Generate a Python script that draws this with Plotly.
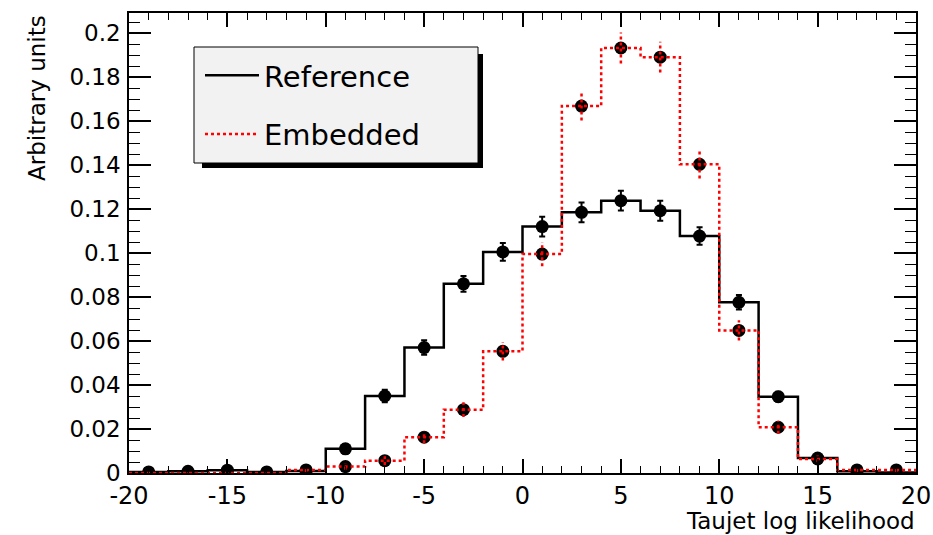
import plotly.graph_objects as go

# ---- data ----
bin_edges = [-20, -18, -16, -14, -12, -10, -8, -6, -4, -2, 0, 2, 4, 6, 8, 10, 12, 14, 16, 18, 20]
bin_centers = [-19, -17, -15, -13, -11, -9, -7, -5, -3, -1, 1, 3, 5, 7, 9, 11, 13, 15, 17, 19]

reference_vals = [0.0005, 0.0008, 0.0013, 0.0005, 0.0009, 0.011, 0.035, 0.057, 0.086, 0.1005,
                  0.112, 0.1185, 0.1238, 0.1192, 0.1077, 0.0776, 0.0347, 0.0068, 0.0008, 0.0002]
reference_err = [0.0005, 0.0006, 0.0008, 0.0005, 0.0006, 0.0022, 0.0028, 0.0033, 0.0036, 0.004,
                 0.0045, 0.0045, 0.0045, 0.0045, 0.004, 0.0033, 0.0022, 0.0012, 0.0005, 0.0004]

embedded_vals = [0.0, 0.0, 0.0, 0.0, 0.0014, 0.0029, 0.0056, 0.0163, 0.0288, 0.0553,
                 0.0995, 0.1668, 0.1932, 0.189, 0.1403, 0.0648, 0.0208, 0.0064, 0.0014, 0.0014]
embedded_err = [0.0003, 0.0003, 0.0003, 0.0003, 0.001, 0.0014, 0.002, 0.0028, 0.0034, 0.0042,
                0.0055, 0.0066, 0.007, 0.007, 0.0064, 0.0046, 0.003, 0.0015, 0.001, 0.001]

x_tick_vals = [-20, -15, -10, -5, 0, 5, 10, 15, 20]
x_tick_text = ["-20", "-15", "-10", "-5", "0", "5", "10", "15", "20"]

series_names = ["Reference", "Embedded"]

RED = "#ff0000"
BLACK = "#000000"

fig = go.Figure()

# Reference histogram (step)
fig.add_trace(go.Scatter(
    x=bin_edges, y=reference_vals + [reference_vals[-1]],
    mode="lines", line=dict(color=BLACK, width=2.5, shape="hv"),
    showlegend=False, hoverinfo="skip"))

# Reference points with error bars
fig.add_trace(go.Scatter(
    x=bin_centers, y=reference_vals, mode="markers",
    marker=dict(color=BLACK, size=13, symbol="circle"),
    error_y=dict(type="data", array=reference_err, color=BLACK, thickness=2, width=3),
    showlegend=False, hoverinfo="skip"))

# Embedded points (black markers)
fig.add_trace(go.Scatter(
    x=bin_centers, y=embedded_vals, mode="markers",
    marker=dict(color=BLACK, size=13, symbol="circle"),
    showlegend=False, hoverinfo="skip"))

# Embedded histogram (red dotted step)
fig.add_trace(go.Scatter(
    x=bin_edges, y=embedded_vals + [embedded_vals[-1]],
    mode="lines", line=dict(color=RED, width=2.5, shape="hv", dash="dot"),
    showlegend=False, hoverinfo="skip"))

# Embedded error bars (red dotted vertical segments)
ex, ey = [], []
for c, v, e in zip(bin_centers, embedded_vals, embedded_err):
    ex += [c, c, None]
    ey += [v - e, v + e, None]
fig.add_trace(go.Scatter(
    x=ex, y=ey, mode="lines", line=dict(color=RED, width=2.5, dash="dot"),
    showlegend=False, hoverinfo="skip"))

# Legend entries
fig.add_trace(go.Scatter(
    x=[None], y=[None], mode="lines", name=series_names[0],
    line=dict(color=BLACK, width=2.5), legendgroup="a"))
fig.add_trace(go.Scatter(
    x=[None], y=[None], mode="lines", name=series_names[1],
    line=dict(color=RED, width=2.5, dash="dot"), legendgroup="b"))

axis_common = dict(
    showline=True, linecolor=BLACK, linewidth=1.5, mirror="ticks",
    ticks="inside", tickcolor=BLACK, tickwidth=1.5,
    showgrid=False, zeroline=False, automargin=False,
)

fig.update_xaxes(
    **axis_common,
    range=[-20, 20],
    tickvals=x_tick_vals, ticktext=x_tick_text,
    ticklen=14,
    minor=dict(dtick=1, ticks="inside", ticklen=7, tickcolor=BLACK, tickwidth=1.2, showgrid=False),
    tickfont=dict(family="DejaVu Sans", size=24, color=BLACK),
)
fig.update_yaxes(
    **axis_common,
    range=[0, 0.2091],
    tick0=0, dtick=0.02,
    ticklen=22,
    minor=dict(dtick=0.005, ticks="inside", ticklen=11, tickcolor=BLACK, tickwidth=1.2, showgrid=False),
    tickfont=dict(family="DejaVu Sans", size=23, color=BLACK),
    ticklabelstandoff=2,
)

# Paper-coordinate helper for legend box
W, H = 933, 535
ML, MR, MT, MB = 129, 17, 13, 62
PW, PH = W - ML - MR, H - MT - MB


def px(xp):
    return (xp - ML) / PW


def py(yp):
    return (H - MB - yp) / PH


fig.update_layout(
    width=W, height=H,
    margin=dict(l=ML, r=MR, t=MT, b=MB, pad=0, autoexpand=False),
    paper_bgcolor="white", plot_bgcolor="white",
    font=dict(family="DejaVu Sans", color=BLACK),
    showlegend=True,
    legend=dict(
        x=px(200), y=py(50), xanchor="left", yanchor="top",
        bgcolor="rgba(0,0,0,0)", borderwidth=0,
        font=dict(family="DejaVu Sans", size=29, color=BLACK),
        traceorder="grouped", tracegroupgap=18, itemwidth=54,
    ),
    shapes=[
        dict(type="rect", xref="paper", yref="paper",
             x0=px(202), x1=px(483), y0=py(168), y1=py(54),
             fillcolor=BLACK, line=dict(width=0), layer="above"),
        dict(type="rect", xref="paper", yref="paper",
             x0=px(194), x1=px(478), y0=py(163), y1=py(47),
             fillcolor="#f2f2f2", line=dict(color=BLACK, width=1), layer="above"),
    ],
    annotations=[
        dict(text="Taujet log likelihood", xref="paper", yref="paper",
             x=1.0, y=py(535), xanchor="right", yanchor="bottom", showarrow=False,
             borderpad=0,
             font=dict(family="DejaVu Sans", size=23, color=BLACK)),
        dict(text="Arbitrary units", xref="paper", yref="paper",
             x=px(22), y=py(13), xanchor="left", yanchor="top", showarrow=False,
             textangle=-90,
             font=dict(family="DejaVu Sans", size=23, color=BLACK)),
    ],
)

fig.write_html("out.html")
